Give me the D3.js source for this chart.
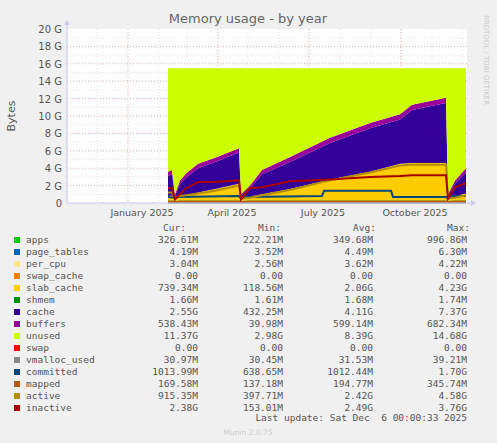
<!DOCTYPE html>
<html><head><meta charset="utf-8">
<script src="https://cdn.jsdelivr.net/npm/d3@7"></script>
<style>body{margin:0;background:#f0f0f0}svg{display:block}</style>
</head><body><svg id="chart"></svg>
<script>
// sample days counted from 2024-11-01, values in G
const days      = [101,105,108,113,119,131,148,172,174,183,195,223,263,303,333,345,379,381,388,399];
const apps      = [.3,.3,.25,.3,.3,.3,.3,.3,.25,.3,.3,.3,.3,.3,.3,.3,.3,.25,.3,.3];
const slabCache = [.5,.55,.3,.45,.6,.9,1.3,1.9,.3,.45,.7,1.3,2.4,3.3,4.2,4.3,4.3,.3,.5,.8];
const cache     = [2.3,2.45,.25,1.45,2.0,2.8,3.1,3.6,.25,.95,2.3,3.1,4.2,5.0,5.1,6.1,6.9,.25,1.4,2.4];
const buffers   = [.5,.5,.2,.4,.5,.5,.5,.5,.2,.3,.5,.6,.6,.6,.6,.6,.6,.2,.4,.5];
const unused    = [11.9,11.7,14.5,12.9,12.1,11.0,10.3,9.2,14.5,13.5,11.7,10.2,8.0,6.3,5.3,4.2,3.4,14.5,12.9,11.5];
const inactive  = [1.7,1.7,.4,1.0,1.7,2.4,2.4,2.6,.4,1.7,1.8,2.5,2.7,3.0,3.1,3.2,3.2,.5,1.8,2.3];
const active    = [1.2,1.2,.6,.8,.9,1.1,1.4,2.0,.5,.6,.9,1.5,2.6,3.5,4.3,4.4,4.4,.5,.6,.9];
const commDays  = [101,108,110,172,174,178,255,257,324,326,379,381,384,399];
const committed = [.7,.6,.7,.8,.5,.7,.8,1.4,1.4,.7,.7,.5,.8,.8];
const mapped    = [.17,.17,.12,.17,.17,.17,.17,.17,.12,.17,.17,.17,.17,.17,.17,.17,.17,.12,.17,.17];
const vmalloc   = [.03,.03,.03,.03,.03,.03,.03,.03,.03,.03,.03,.03,.03,.03,.03,.03,.03,.03,.03,.03];

const names = ["apps","page_tables","per_cpu","swap_cache","slab_cache","shmem","cache","buffers","unused","swap","vmalloc_used","committed","mapped","active","inactive"];
const colors = ["#00cc00","#0066b3","#ffe680","#ff8000","#ffcc00","#008f00","#330099","#990099","#ccff00","#ff0000","#888888","#00487d","#b35a00","#b38f00","#a80000"];
const curV = ["326.61M","4.19M","3.04M","0.00","739.34M","1.66M","2.55G","538.43M","11.37G","0.00","30.97M","1013.99M","169.58M","915.35M","2.38G"];
const minV = ["222.21M","3.52M","2.56M","0.00","118.56M","1.61M","432.25M","39.98M","2.98G","0.00","30.45M","638.65M","137.18M","397.71M","153.01M"];
const avgV = ["349.68M","4.49M","3.62M","0.00","2.06G","1.68M","4.11G","599.14M","8.39G","0.00","31.53M","1012.44M","194.77M","2.42G","2.49G"];
const maxV = ["996.86M","6.30M","4.22M","0.00","4.23G","1.74M","7.37G","682.34M","14.68G","0.00","39.21M","1.70G","345.74M","4.58G","3.76G"];
const yTicks = [0,2,4,6,8,10,12,14,16,18,20];
const monthLabels = ["January 2025","April 2025","July 2025","October 2025"];

const W = 497, H = 443, L = 67, R = 467, T = 29, B = 203;
const svg = d3.select("#chart").attr("width", W).attr("height", H).style("font-family","DejaVu Sans");
const t0 = new Date(2024,10,1);
const dayDate = d => d3.timeDay.offset(t0, d);
const x = d3.scaleTime().domain([t0, new Date(2025,11,6)]).range([L, R]);
const y = d3.scaleLinear().domain([0,20]).range([B, T]);

svg.append("rect").attr("x",L).attr("y",T).attr("width",R-L).attr("height",B-T).attr("fill","#fff");

// grid
const g = svg.append("g");
d3.range(1,20,1).forEach(v => g.append("line").attr("x1",L).attr("x2",R).attr("y1",y(v)).attr("y2",y(v))
  .attr("stroke", v%2 ? "#ddd" : "#e8a0a0").attr("stroke-dasharray","1,2").attr("stroke-width",1));
d3.timeMonth.range(new Date(2024,10,1), new Date(2025,11,7)).forEach(m => {
  const q = m.getMonth()%3===0;
  g.append("line").attr("x1",x(m)).attr("x2",x(m)).attr("y1",T).attr("y2",B)
   .attr("stroke", q ? "#e8a0a0" : "#ddd").attr("stroke-dasharray","1,2");
});

// stacked areas
const rows = days.map((d,i) => ({date: dayDate(d), apps: apps[i], slab_cache: slabCache[i], cache: cache[i], buffers: buffers[i], unused: unused[i]}));
const keys = ["apps","slab_cache","cache","buffers","unused"];
const stack = d3.stack().keys(keys)(rows);
const area = d3.area().x(d => x(d.data.date)).y0(d => y(d[0])).y1(d => y(d[1]));
svg.append("g").selectAll("path").data(stack).join("path")
  .attr("d", area).attr("fill", s => colors[names.indexOf(s.key)]);

// lines
const line = d3.line().x(d => x(d[0])).y(d => y(d[1]));
const lineSets = [
  ["vmalloc_used", days.map((d,i)=>[dayDate(d), vmalloc[i]])],
  ["committed", commDays.map((d,i)=>[dayDate(d), committed[i]])],
  ["mapped", days.map((d,i)=>[dayDate(d), mapped[i]])],
  ["active", days.map((d,i)=>[dayDate(d), active[i]])],
  ["inactive", days.map((d,i)=>[dayDate(d), inactive[i]])]
];
lineSets.forEach(([n, pts]) => svg.append("path").attr("d", line(pts)).attr("fill","none")
  .attr("stroke", colors[names.indexOf(n)]).attr("stroke-width",2));

// axes
const ax = svg.append("g").attr("stroke","#c8c8f0").attr("fill","#c8c8f0");
ax.append("line").attr("x1",L).attr("x2",R+5).attr("y1",B).attr("y2",B);
ax.append("line").attr("x1",L).attr("x2",L).attr("y1",B).attr("y2",T-6);
ax.append("path").attr("d",`M${R+4},${B-3}L${R+9},${B}L${R+4},${B+3}Z`).attr("stroke","none");
ax.append("path").attr("d",`M${L-3},${T-4}L${L},${T-9}L${L+3},${T-4}Z`).attr("stroke","none");

svg.append("g").selectAll("text").data(yTicks).join("text")
  .attr("x",L-5).attr("y",v=>y(v)+4).attr("text-anchor","end").attr("font-size",10).attr("fill","#555")
  .text(v => v ? v+" G" : "0");
const qStarts = [new Date(2025,0,1),new Date(2025,3,1),new Date(2025,6,1),new Date(2025,9,1)];
svg.append("g").selectAll("text").data(monthLabels).join("text")
  .attr("x",(d,i)=>x(d3.timeDay.offset(qStarts[i],14))).attr("y",216).attr("text-anchor","middle")
  .attr("font-size",9.5).attr("fill","#555").text(d=>d);

svg.append("text").attr("x",248).attr("y",23).attr("text-anchor","middle").attr("font-size",13).attr("fill","#666").text("Memory usage - by year");
svg.append("text").attr("transform","translate(15,116) rotate(-90)").attr("text-anchor","middle").attr("font-size",11).attr("fill","#555").text("Bytes");
svg.append("text").attr("transform","translate(484,60) rotate(90)").attr("text-anchor","middle").attr("font-size",7).attr("fill","#ccc").text("RRDTOOL / TOBI OETIKER");

// legend
const lg = svg.append("g").style("font-family","DejaVu Sans Mono").attr("font-size",9.5).attr("fill","#555");
[["Cur:",186],["Min:",281],["Avg:",376],["Max:",470]].forEach(([t,xx]) =>
  lg.append("text").attr("x",xx).attr("y",231).attr("text-anchor","end").text(t));
names.forEach((n,i) => {
  const yy = 243 + i*12;
  lg.append("rect").attr("x",14).attr("y",yy-6).attr("width",6).attr("height",6).attr("fill",colors[i]);
  lg.append("text").attr("x",26).attr("y",yy).text(n);
  [[curV,198],[minV,283],[avgV,373],[maxV,467]].forEach(([arr,xx]) =>
    lg.append("text").attr("x",xx).attr("y",yy).attr("text-anchor","end").text(arr[i]));
});
lg.append("text").attr("x",467).attr("y",421).attr("text-anchor","end").text("Last update: Sat Dec  6 00:00:33 2025").style("white-space","pre");
svg.append("text").attr("x",248).attr("y",435).attr("text-anchor","middle").attr("font-size",7.5).attr("fill","#ccc").text("Munin 2.0.75");
</script></body></html>
